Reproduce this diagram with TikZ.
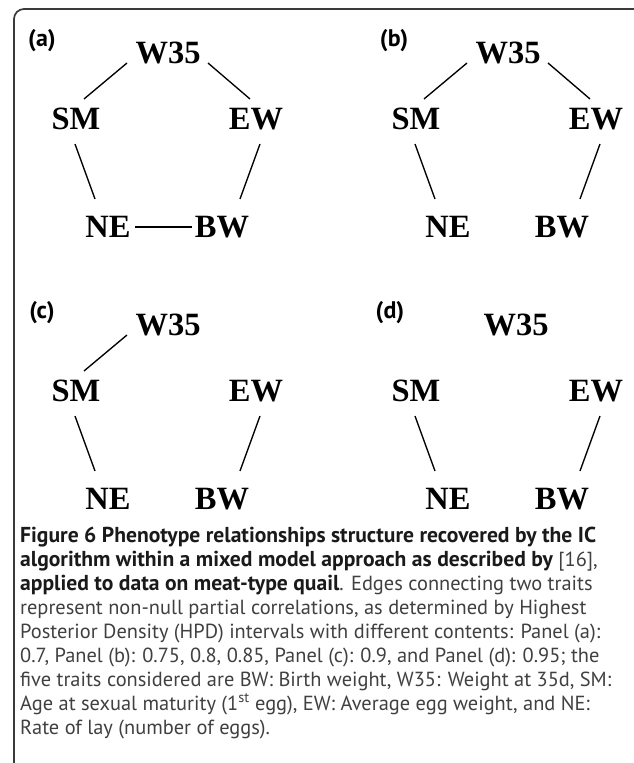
\documentclass[tikz,border=0pt]{standalone}
\usepackage{fontspec}
\setmainfont{Liberation Serif}
\newfontfamily\capfont{PT Sans}
\usetikzlibrary{calc}
\definecolor{captxt}{HTML}{404040}
\definecolor{capbold}{HTML}{1A1A1A}
\definecolor{framec}{HTML}{3A3A3A}
\newcommand\captbold[1]{{\fontsize{21.6}{21.6}\selectfont\bfseries\color{capbold}#1}}
\begin{document}
\begin{tikzpicture}[x=1pt,y=-1pt,
  trait/.style={font=\fontsize{32.5}{32.5}\selectfont\bfseries, inner sep=0pt, text height=21.5pt, text depth=0pt},
  edge/.style={line width=1.35pt},
  plabel/.style={font=\capfont\bfseries\fontsize{24}{24}\selectfont, inner sep=0pt},
  capline/.style={anchor=base west, inner sep=0pt, font=\capfont\fontsize{20.4}{20.4}\selectfont, text=captxt}]
\useasboundingbox (0,0) rectangle (633,763);
\fill[white] (0,0) rectangle (633,763);
\draw[framec, line width=1.7pt, rounded corners=10pt] (14,775) -- (14,9) -- (645,9);

% ---- panel (a)
\node[plabel] (la) at (42,41) {(a)};
\node[trait] (aW) at (168,53) {W35};
\node[trait] (aS) at (76,119) {SM};
\node[trait] (aE) at (256,119) {EW};
\node[trait] (aN) at (108,227) {NE};
\node[trait] (aB) at (222,227) {BW};
\draw[edge] ($(aW)+(-41,10)$) -- ($(aS)+(8,-20)$);
\draw[edge] ($(aW)+(40,10)$) -- ($(aE)+(-6,-20)$);
\draw[edge] ($(aS)+(-1,25)$) -- ($(aN)+(-13,-28)$);
\draw[edge] ($(aE)+(4,25)$) -- ($(aB)+(18,-28)$);
\draw[edge] ($(aN)+(27,0)$) -- ($(aB)+(-30,0)$);

% ---- panel (b)
\begin{scope}[shift={(340,0)}]
\node[plabel] (lb) at (54,41) {(b)};
\node[trait] (bW) at (168,53) {W35};
\node[trait] (bS) at (76,119) {SM};
\node[trait] (bE) at (256,119) {EW};
\node[trait] (bN) at (108,227) {NE};
\node[trait] (bB) at (222,227) {BW};
\draw[edge] ($(bW)+(-41,10)$) -- ($(bS)+(8,-20)$);
\draw[edge] ($(bW)+(40,10)$) -- ($(bE)+(-6,-20)$);
\draw[edge] ($(bS)+(-1,25)$) -- ($(bN)+(-13,-28)$);
\draw[edge] ($(bE)+(4,25)$) -- ($(bB)+(18,-28)$);
\end{scope}

% ---- panel (c)
\begin{scope}[shift={(0,272)}]
\node[plabel] (lc) at (42,41) {(c)};
\node[trait] (cW) at (168,53) {W35};
\node[trait] (cS) at (76,119) {SM};
\node[trait] (cE) at (256,119) {EW};
\node[trait] (cN) at (108,227) {NE};
\node[trait] (cB) at (222,227) {BW};
\draw[edge] ($(cW)+(-41,10)$) -- ($(cS)+(8,-20)$);
\draw[edge] ($(cS)+(-1,25)$) -- ($(cN)+(-13,-28)$);
\draw[edge] ($(cE)+(4,25)$) -- ($(cB)+(18,-28)$);
\end{scope}

% ---- panel (d)
\begin{scope}[shift={(340,272)}]
\node[plabel] (ld) at (50,41) {(d)};
\node[trait] (dW) at (176,53) {W35};
\node[trait] (dS) at (76,119) {SM};
\node[trait] (dE) at (256,119) {EW};
\node[trait] (dN) at (108,227) {NE};
\node[trait] (dB) at (222,227) {BW};
\draw[edge] ($(dS)+(-1,25)$) -- ($(dN)+(-13,-28)$);
\draw[edge] ($(dE)+(4,25)$) -- ($(dB)+(18,-28)$);
\end{scope}

% ---- caption
\node[capline] (c1) at (20,542) {\captbold{Figure 6 Phenotype relationships structure recovered by the IC}};
\node[capline] (c2) at (20,566) {\captbold{algorithm within a mixed model approach as described by} [16],};
\node[capline] (c3) at (20,590) {\captbold{applied to data on meat-type quail}. Edges connecting two traits};
\node[capline] (c4) at (20,614) {represent non-null partial correlations, as determined by Highest};
\node[capline] (c5) at (20,638) {Posterior Density (HPD) intervals with different contents: Panel (a):};
\node[capline] (c6) at (20,662) {0.7, Panel (b): 0.75, 0.8, 0.85, Panel (c): 0.9, and Panel (d): 0.95; the};
\node[capline] (c7) at (20,686) {five traits considered are BW: Birth weight, W35: Weight at 35d, SM:};
\node[capline] (c8) at (20,710) {Age at sexual maturity (1\textsuperscript{st} egg), EW: Average egg weight, and NE:};
\node[capline] (c9) at (20,734) {Rate of lay (number of eggs).};
\end{tikzpicture}
\end{document}
